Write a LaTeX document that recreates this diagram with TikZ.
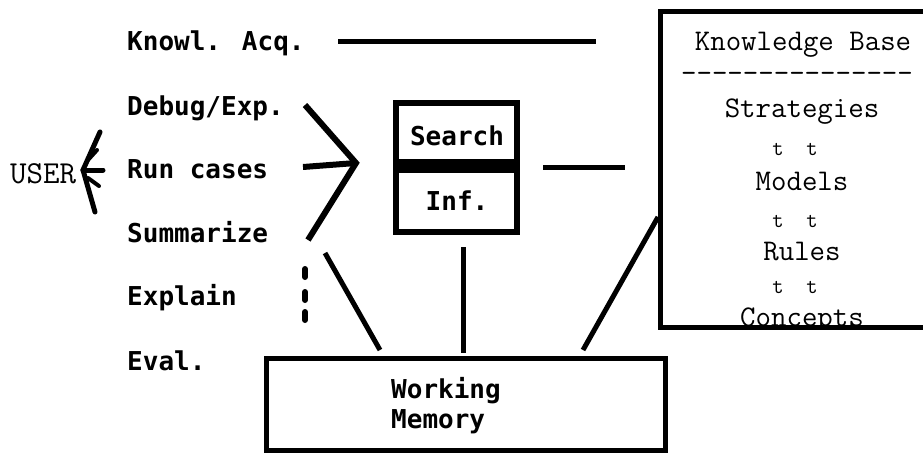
\documentclass[tikz,border=0pt]{standalone}
\usepackage{fontspec}
\newfontfamily\dotfont{DejaVu Sans Mono}
\begin{document}
\begin{tikzpicture}[x=1pt,y=-1pt,
  lbl/.style={anchor=base west, font=\dotfont\bfseries\fontsize{26}{30}\selectfont, inner sep=0pt},
  kbt/.style={anchor=base, font=\ttfamily\fontsize{30}{34}\selectfont, inner sep=0pt},
  tt/.style={anchor=base, font=\ttfamily\fontsize{22}{26}\selectfont, inner sep=0pt},
  conn/.style={line width=5pt},
  boxed/.style={draw, line width=5pt, inner sep=0pt}]
\useasboundingbox (0,0) rectangle (923,453);
\clip (0,0) rectangle (923,453);

% left labels
\node[lbl] (ka) at (127,50) {Knowl. Acq.};
\node[lbl] (de) at (127,115) {Debug/Exp.};
\node[lbl] (rc) at (127,178) {Run cases};
\node[lbl] (su) at (127,242) {Summarize};
\node[lbl] (ex) at (127,305) {Explain};
\node[lbl] (ev) at (127,370) {Eval.};
\node[kbt, anchor=base west, font=\ttfamily\fontsize{32}{36}\selectfont] (user) at (10,183) {USER};

% user arrow
\coordinate (utip) at (83,170);
\coordinate (uup) at (100,132);
\coordinate (ulo) at (95,212);
\coordinate (umid) at (103,170);
\draw[conn, line cap=round] (uup) -- (utip) -- (ulo);
\draw[conn, line cap=round] (utip) -- (umid);
\draw[line width=4pt, line cap=round] (97,150) -- (88,160);
\draw[line width=4pt, line cap=round] (99,186) -- (88,178);

% search / inference box
\node[boxed, line width=6pt, minimum width=121pt, minimum height=129pt] (sbox) at (456.5,167.5) {};
\fill (393,159) rectangle (520,173);
\node[lbl, anchor=base] (srch) at (457,145) {Search};
\node[lbl, anchor=base] (inf) at (457,210) {Inf.};

% knowledge base
\node[boxed, minimum width=280pt, minimum height=316pt] (kb) at (800,169) {};
\node[kbt] (kbh) at (803,50) {Knowledge Base};
\node[kbt] (dash) at (797,82) {---------------};
\node[kbt] (strat) at (802,117) {Strategies};
\node[tt] (t1) at (795,155) {t\ \ t};
\node[kbt] (mod) at (802,190) {Models};
\node[tt] (t2) at (795,227) {t\ \ t};
\node[kbt] (rul) at (802,260) {Rules};
\node[tt] (t3) at (795,293) {t\ \ t};
\begin{scope}
  \clip (600,0) rectangle (923,324);
  \node[kbt] (con) at (802,326) {Concepts};
\end{scope}
\draw[line width=5pt] (660,327) -- (940,327);

% working memory
\node[boxed, minimum width=399pt, minimum height=92pt] (wm) at (465.5,404) {};
\node[lbl] (wm1) at (391,398) {Working};
\node[lbl] (wm2) at (391,428) {Memory};

% connectors
\coordinate (kaE) at (338,41);
\coordinate (kbA) at (596,41);
\draw[conn] (kaE) -- (kbA);

\coordinate (tip) at (356,163);
\coordinate (deE) at (305,105);
\coordinate (rcE) at (303,167);
\coordinate (suE) at (308,240);
\draw[line width=6pt] (deE) -- (tip) -- (suE);
\draw[line width=6pt] (rcE) -- (tip);

\coordinate (sR) at (543,167);
\coordinate (sR2) at (625,167);
\draw[conn] (sR) -- (sR2);

\foreach \yy in {273,296,316} \draw[line width=6pt, line cap=round] (305,{\yy-4}) -- (305,{\yy+4});

\coordinate (l1a) at (325,253);
\coordinate (l1b) at (380,350);
\draw[conn] (l1a) -- (l1b);
\coordinate (l2a) at (463,247);
\coordinate (l2b) at (463,353);
\draw[conn] (l2a) -- (l2b);
\coordinate (l3a) at (583,350);
\coordinate (l3b) at (658,217);
\draw[conn] (l3a) -- (l3b);
\end{tikzpicture}
\end{document}
